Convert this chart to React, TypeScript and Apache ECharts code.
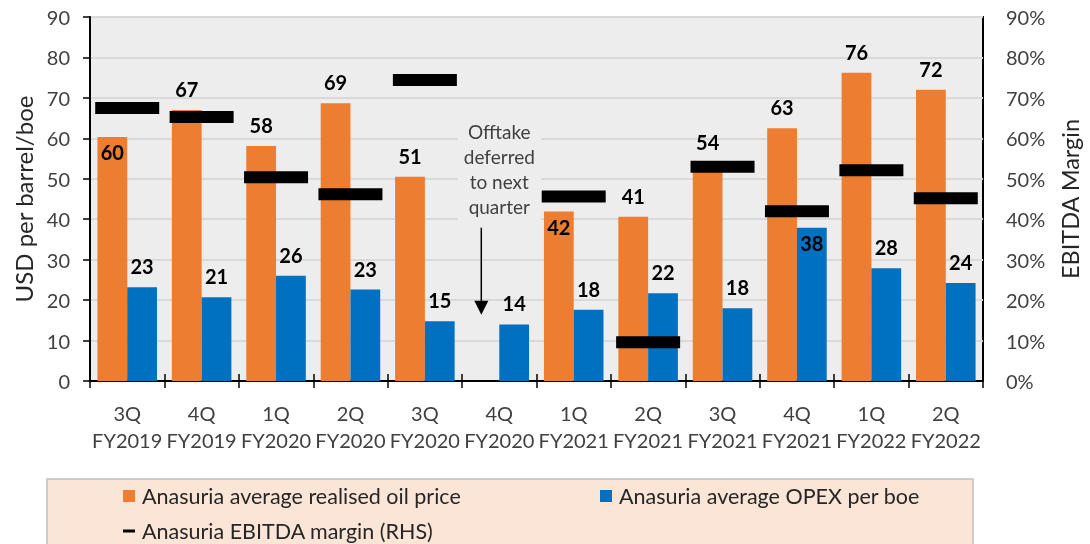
import { useEffect, useRef } from "react";
import * as echarts from "echarts";

const categories = [
  "3Q\nFY2019", "4Q\nFY2019", "1Q\nFY2020", "2Q\nFY2020", "3Q\nFY2020", "4Q\nFY2020",
  "1Q\nFY2021", "2Q\nFY2021", "3Q\nFY2021", "4Q\nFY2021", "1Q\nFY2022", "2Q\nFY2022",
];
const oilPrice: (number | null)[] = [60.3, 67, 58.1, 68.7, 50.5, null, 41.9, 40.6, 54, 62.5, 76.2, 72];
const opexPerBoe: number[] = [23.2, 20.7, 26, 22.6, 14.8, 14, 17.6, 21.7, 18, 37.9, 27.9, 24.2];
const ebitdaMargin: (number | null)[] = [67.5, 65.3, 50.4, 46.2, 74.4, null, 45.6, 9.6, 53, 42, 52.1, 45.2];
const oilLabelInside = [0, 6];
const opexLabelInside = [9];
const leftAxisTicks = { min: 0, max: 90, interval: 10 };
const rightAxisTicks = { min: 0, max: 90, interval: 10 };

const seriesNames = [
  "Anasuria average realised oil price",
  "Anasuria average OPEX per boe",
  "Anasuria EBITDA margin (RHS)",
];
const annotationText = "Offtake\ndeferred\nto next\nquarter";
const annotationCategory = 5;
const annotationTextValue = 52.4;
const annotationArrowFrom = 37.9;
const annotationArrowTo = 16.4;

const FONT = "Lato";
const ORANGE = "#ED7D31";
const BLUE = "#0070C0";
const AXIS_TEXT = "#404040";

export default function App() {
  const ref = useRef<HTMLDivElement>(null);
  useEffect(() => {
    const chart = echarts.init(ref.current!, null, { renderer: "svg" });
    const labelBase = {
      show: true,
      position: "top",
      distance: 11,
      fontFamily: FONT,
      fontSize: 20,
      fontWeight: "bold",
      color: "#000",
      formatter: (p: any) => String(Math.round(Number(p.value))),
    };
    const oilData = oilPrice.map((v, i) =>
      v == null ? "-" : oilLabelInside.includes(i) ? { value: v, label: { position: "insideTop", distance: 5 } } : v
    );
    const opexData = opexPerBoe.map((v, i) =>
      opexLabelInside.includes(i) ? { value: v, label: { position: "insideTop", distance: 5 } } : v
    );
    const marginData = ebitdaMargin.map((v) => (v == null ? "-" : v));
    const legendText = { fontFamily: FONT, fontSize: 21.5, color: "#262626", padding: [0, 0, 0, 2] };
    const legendBase = { padding: 0, itemGap: 0, selectedMode: false, textStyle: legendText, icon: "rect", itemWidth: 12 };

    chart.setOption({
      animation: false,
      grid: {
        left: 90, right: 100, top: 17, bottom: 163,
        show: true, backgroundColor: "#EDEDED", borderColor: "#000", borderWidth: 2,
      },
      legend: [
        { ...legendBase, data: [seriesNames[0]], left: 123, top: 485, itemHeight: 12 },
        { ...legendBase, data: [seriesNames[1]], left: 600, top: 485, itemHeight: 12 },
        { ...legendBase, data: [seriesNames[2]], left: 123, top: 520, itemHeight: 3 },
      ],
      xAxis: [
        {
          type: "category",
          data: categories,
          position: "bottom",
          axisLine: { show: true, lineStyle: { color: "#000", width: 2 } },
          axisTick: { show: true, length: 7, lineStyle: { color: "#000", width: 1.5 } },
          axisLabel: { fontFamily: FONT, fontSize: 20, color: AXIS_TEXT, lineHeight: 27, margin: 18, interval: 0 },
          splitLine: { show: false },
        },
        {
          type: "category",
          data: categories,
          position: "bottom",
          axisLine: { show: false },
          axisTick: { show: true, inside: true, length: 7, lineStyle: { color: "#000", width: 1.5 } },
          axisLabel: { show: false },
          splitLine: { show: false },
        },
      ],
      yAxis: [
        {
          type: "value",
          ...leftAxisTicks,
          name: "USD per barrel/boe",
          nameLocation: "middle",
          nameGap: 54,
          nameTextStyle: { fontFamily: FONT, fontSize: 24, color: "#262626" },
          axisLine: { show: true, lineStyle: { color: "#000", width: 2 } },
          axisTick: { show: true, length: 7, lineStyle: { color: "#000", width: 1.5 } },
          axisLabel: { fontFamily: FONT, fontSize: 20, color: AXIS_TEXT, margin: 20 },
          splitLine: { show: true, lineStyle: { color: "#D9D9D9", width: 2 } },
        },
        {
          type: "value",
          ...rightAxisTicks,
          position: "right",
          name: "EBITDA Margin",
          nameLocation: "middle",
          nameGap: 75,
          nameTextStyle: { fontFamily: FONT, fontSize: 23.5, color: "#262626" },
          axisLine: { show: false },
          axisTick: { show: false },
          axisLabel: { fontFamily: FONT, fontSize: 20, color: AXIS_TEXT, margin: 23, formatter: "{value}%" },
          splitLine: { show: false },
        },
      ],
      series: [
        {
          name: seriesNames[0], type: "bar", data: oilData, barGap: "0%", barCategoryGap: "20%",
          itemStyle: { color: ORANGE }, label: labelBase, silent: true,
        },
        {
          name: seriesNames[1], type: "bar", data: opexData, barGap: "0%", barCategoryGap: "20%",
          itemStyle: { color: BLUE }, label: labelBase, silent: true,
        },
        {
          name: seriesNames[2], type: "scatter", yAxisIndex: 1, data: marginData,
          symbol: "rect", symbolSize: [64, 12], itemStyle: { color: "#000", opacity: 1 }, silent: true, z: 5,
        },
      ],
    });

    const finder = { xAxisIndex: 0, yAxisIndex: 0 };
    const tp = chart.convertToPixel(finder, [annotationCategory, annotationTextValue]) as number[];
    const a0 = chart.convertToPixel(finder, [annotationCategory, annotationArrowFrom]) as number[];
    const a1 = chart.convertToPixel(finder, [annotationCategory, annotationArrowTo]) as number[];
    const ax = a0[0] - 18;

    chart.setOption({
      graphic: {
        elements: [
          {
            type: "rect", z: 0, silent: true,
            shape: { x: 47, y: 479, width: 926, height: 80 },
            style: { fill: "#FBE5D6", stroke: "#BFBFBF", lineWidth: 1.5 },
          },
          {
            type: "text", z: 10, silent: true, x: tp[0], y: tp[1],
            style: {
              text: annotationText, fill: AXIS_TEXT, font: `19px ${FONT}`, lineHeight: 25,
              align: "center", verticalAlign: "middle", backgroundColor: "#EDEDED", padding: [6, 6, 6, 6],
            },
          },
          {
            type: "line", z: 10, silent: true,
            shape: { x1: ax, y1: a0[1], x2: ax, y2: a1[1] - 10 },
            style: { stroke: "#000", lineWidth: 1.5 },
          },
          {
            type: "polygon", z: 10, silent: true,
            shape: { points: [[ax - 7, a1[1] - 14], [ax + 7, a1[1] - 14], [ax, a1[1]]] },
            style: { fill: "#000" },
          },
        ],
      },
    });

    return () => chart.dispose();
  }, []);
  return <div ref={ref} style={{ position: "fixed", left: 0, top: 0, width: 1090, height: 544 }} />;
}
